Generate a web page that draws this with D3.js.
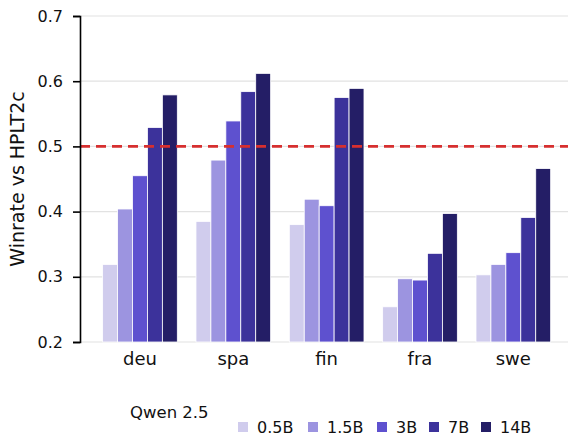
<!DOCTYPE html>
<html>
<head>
<meta charset="utf-8">
<script src="https://d3js.org/d3.v7.min.js"></script>
<style>
  body { margin: 0; background: #fff; }
  svg text { font-family: "DejaVu Sans", sans-serif; fill: #111; }
</style>
</head>
<body>
<svg id="MAINSVG" width="568" height="438"></svg>
<script>
var languages = ["deu", "spa", "fin", "fra", "swe"];
var sizes = ["0.5B", "1.5B", "3B", "7B", "14B"];
var colors = ["#d0cced", "#9c94e0", "#5e51cf", "#3c329b", "#241e66"];
var winrate = {
  "0.5B": [0.319, 0.385, 0.380, 0.254, 0.303],
  "1.5B": [0.404, 0.479, 0.419, 0.297, 0.319],
  "3B":   [0.455, 0.539, 0.409, 0.295, 0.337],
  "7B":   [0.529, 0.584, 0.575, 0.336, 0.391],
  "14B":  [0.579, 0.612, 0.589, 0.397, 0.466]
};
var yTicks = [0.2, 0.3, 0.4, 0.5, 0.6, 0.7];
var baseline = 0.5;

var SVG = d3.select("#MAINSVG");

var left = 80, right = 568, top_y = 16, bottom_y = 342;

var y = d3.scaleLinear().domain([0.2, 0.7]).range([bottom_y, top_y]);
var x = d3.scaleBand().domain(languages).range([93.3, 560]).paddingInner(0).paddingOuter(0);
var xInner = d3.scaleBand().domain(sizes).range([0, x.bandwidth() * 0.8]);

// grid
SVG.append("g").selectAll("line").data(yTicks).join("line")
   .attr("x1", left).attr("x2", right)
   .attr("y1", d => y(d)).attr("y2", d => y(d))
   .attr("stroke", "#e2e2e2").attr("stroke-width", 1.2);

// bars
languages.forEach(function(lang, li) {
  var g = SVG.append("g")
     .attr("transform", "translate(" + (x(lang) + x.bandwidth() * 0.1) + ",0)");
  sizes.forEach(function(s, si) {
    var v = winrate[s][li];
    g.append("rect")
     .attr("x", xInner(s))
     .attr("y", y(v))
     .attr("width", xInner.bandwidth())
     .attr("height", y(0.2) - y(v))
     .attr("fill", colors[si])
     .attr("stroke", "#ffffff")
     .attr("stroke-width", 0.8);
  });
});

// reference line
SVG.append("line")
   .attr("x1", left).attr("x2", right)
   .attr("y1", y(baseline)).attr("y2", y(baseline))
   .attr("stroke", "#d62f2f").attr("stroke-width", 2.6)
   .attr("stroke-dasharray", "10,6");

// y axis
var yAxis = SVG.append("g")
   .attr("transform", "translate(" + left + ",0)")
   .call(d3.axisLeft(y).tickValues(yTicks).tickFormat(d3.format(".1f")).tickSize(7).tickPadding(10));
yAxis.select(".domain").attr("stroke", "#000").attr("stroke-width", 1.6);
yAxis.selectAll(".tick line").attr("stroke", "#000").attr("stroke-width", 1.6);
yAxis.selectAll("text").style("font-size", "16px").style("font-family", "DejaVu Sans").attr("fill", "#111");

// x labels
var xAxis = SVG.append("g")
   .attr("transform", "translate(0," + bottom_y + ")")
   .call(d3.axisBottom(x).tickSize(0).tickPadding(10));
xAxis.select(".domain").remove();
xAxis.selectAll("text").style("font-size", "18px").style("font-family", "DejaVu Sans").attr("fill", "#111");

// y label
SVG.append("text")
   .attr("transform", "translate(24,179) rotate(-90)")
   .attr("text-anchor", "middle")
   .style("font-size", "19px")
   .text("Winrate vs HPLT2c");

// legend
SVG.append("text")
   .attr("x", 130).attr("y", 418)
   .style("font-size", "16.5px")
   .text("Qwen 2.5");

var legendX = [238, 308, 377, 429, 481];
var lg = SVG.append("g").selectAll("g").data(sizes).join("g")
   .attr("transform", (d, i) => "translate(" + legendX[i] + ",422)");
lg.append("rect").attr("width", 10).attr("height", 10).attr("fill", (d, i) => colors[i]);
lg.append("text").attr("x", 19).attr("y", 10.5).style("font-size", "16px").text(d => d);
</script>
</body>
</html>
